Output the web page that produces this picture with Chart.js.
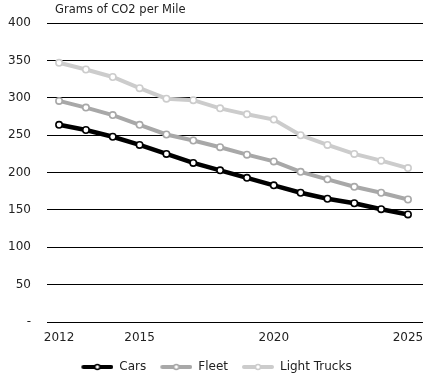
<!DOCTYPE html>
<html>
<head>
<meta charset="utf-8">
<script src="https://cdn.jsdelivr.net/npm/chart.js@4"></script>
<style>
  html, body { margin: 0; padding: 0; background: #fff; }
  #wrap { width: 423px; height: 376px; }
</style>
</head>
<body>
<div id="wrap"><canvas id="co2Chart" width="423" height="376"></canvas></div>
<script>
// Grams of CO2 per mile, model years 2012-2025
const years = [2012, 2013, 2014, 2015, 2016, 2017, 2018, 2019, 2020, 2021, 2022, 2023, 2024, 2025];
const cars = [264, 257, 248, 237, 225, 213, 203, 193, 183, 173, 165, 159, 151, 144];
const fleet = [296, 287, 277, 264, 251, 243, 234, 224, 215, 201, 191, 181, 173, 164];
const lightTrucks = [347, 338, 328, 313, 299, 297, 286, 278, 271, 250, 237, 225, 216, 206];
const xTicks = [2012, 2015, 2020, 2025];
const yTicks = [0, 50, 100, 150, 200, 250, 300, 350, 400];

const FONT = 'DejaVu Sans';
const LEAD = 10;              // transparent space before each legend swatch
const SWATCH_W = LEAD + 32;

// Legend swatch: thick line with a small hollow marker in the middle
function makeSwatch(color) {
  const c = document.createElement('canvas');
  c.width = SWATCH_W;
  c.height = 10;
  const g = c.getContext('2d');
  g.strokeStyle = color;
  g.lineWidth = 4;
  g.lineCap = 'round';
  g.beginPath();
  g.moveTo(LEAD + 2, 5);
  g.lineTo(SWATCH_W - 2, 5);
  g.stroke();
  g.beginPath();
  g.arc((LEAD + SWATCH_W) / 2, 5, 2.5, 0, Math.PI * 2);
  g.fillStyle = '#fff';
  g.fill();
  g.lineWidth = 1.5;
  g.stroke();
  return c;
}

function series(label, values, color, width) {
  return {
    label: label,
    data: years.map((y, i) => ({ x: y, y: values[i] })),
    borderColor: color,
    backgroundColor: '#fff',
    borderWidth: width,
    pointRadius: 3.2,
    pointBorderWidth: 1.6,
    pointBackgroundColor: '#fff',
    pointBorderColor: color,
    tension: 0,
    clip: false,
    swatch: makeSwatch(color)
  };
}

// Axis title drawn at the top-left of the plot
const axisTitle = {
  id: 'axisTitle',
  afterDraw(chart) {
    const ctx = chart.ctx;
    ctx.save();
    ctx.font = '11.5px "' + FONT + '"';
    ctx.fillStyle = '#222';
    ctx.textBaseline = 'middle';
    ctx.textAlign = 'left';
    ctx.fillText('Grams of CO2 per Mile', chart.chartArea.left + 8, 10);
    ctx.restore();
  }
};

const ctx = document.getElementById('co2Chart').getContext('2d');
new Chart(ctx, {
  type: 'line',
  data: {
    datasets: [
      series('Cars', cars, '#000000', 4.5),
      series('Fleet', fleet, '#a8a8a8', 4),
      series('Light Trucks', lightTrucks, '#cccccc', 4)
    ]
  },
  options: {
    responsive: false,
    animation: false,
    layout: { autoPadding: false, padding: { top: 22, right: 0, left: 0, bottom: -7 } },
    plugins: {
      legend: {
        position: 'bottom',
        labels: {
          font: { family: FONT, size: 12 },
          color: '#222',
          usePointStyle: true,
          pointStyleWidth: SWATCH_W,
          padding: 4,
          generateLabels(chart) {
            const items = Chart.defaults.plugins.legend.labels.generateLabels(chart);
            items.forEach(it => {
              it.pointStyle = chart.data.datasets[it.datasetIndex].swatch;
            });
            return items;
          }
        }
      },
      tooltip: { enabled: false }
    },
    scales: {
      x: {
        type: 'linear',
        min: 2011.55,
        max: 2025.56,
        afterBuildTicks(scale) {
          scale.ticks = xTicks.map(v => ({ value: v }));
        },
        afterFit(scale) {
          scale.paddingLeft = 0;
          scale.paddingRight = 0;
          scale.height = 35;
        },
        grid: { display: true, drawOnChartArea: false, drawTicks: true, tickLength: 9, color: 'rgba(0,0,0,0)' },
        border: { display: false },
        ticks: {
          font: { family: FONT, size: 12 },
          color: '#222',
          padding: 0,
          maxRotation: 0,
          autoSkip: false,
          callback: v => String(v)
        }
      },
      y: {
        min: 0,
        max: 400,
        afterBuildTicks(scale) {
          scale.ticks = yTicks.map(v => ({ value: v }));
        },
        afterFit(scale) {
          scale.width = 47;
        },
        grid: { color: '#000', lineWidth: 1, drawTicks: false },
        border: { display: false },
        ticks: {
          font: { family: FONT, size: 12 },
          color: '#222',
          padding: 16,
          callback: v => (v === 0 ? '-' : String(v))
        }
      }
    }
  },
  plugins: [axisTitle]
});
</script>
</body>
</html>
